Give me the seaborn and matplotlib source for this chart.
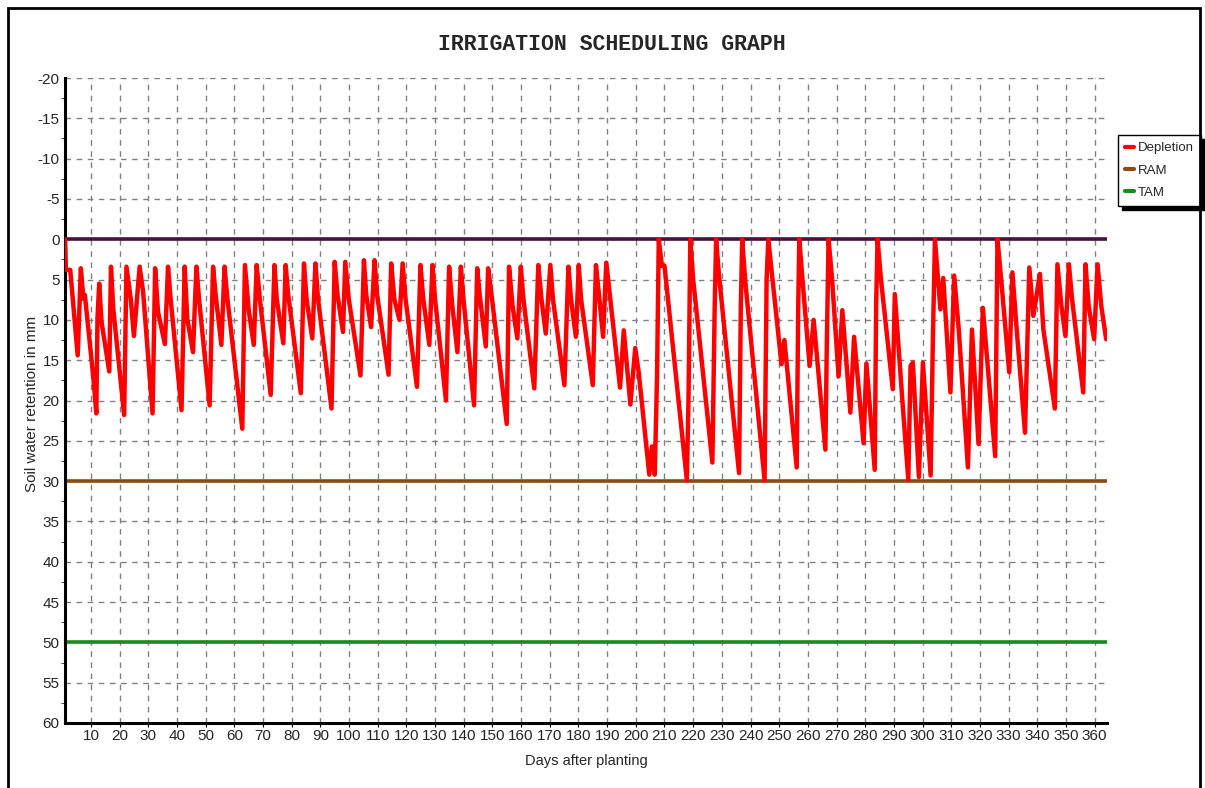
## Irrigation scheduling graph - depletion vs RAM / TAM

import numpy as np
import pandas as pd
import matplotlib.pyplot as plt
import seaborn as sns
from matplotlib.patches import Rectangle


# Depletion curve (day after planting, depletion in mm)
# rows kept at 10 values so the two lists stay in step
arrDays = [1.0, 1.3, 2.8, 5.4, 6.5, 7.4, 7.9, 10.9, 11.9, 12.3,
           12.9, 13.7, 16.4, 17.0, 17.8, 21.6, 22.4, 23.9, 25.0, 27.0,
           28.2, 31.5, 32.4, 33.4, 35.8, 36.9, 37.8, 41.6, 42.7, 43.6,
           45.6, 46.8, 47.7, 51.4, 52.6, 53.5, 55.5, 56.6, 57.6, 62.8,
           63.7, 65.1, 66.8, 67.8, 68.9, 72.7, 74.0, 74.8, 77.1, 77.9,
           78.8, 83.2, 84.3, 85.2, 87.2, 88.3, 89.2, 93.9, 95.0, 96.0,
           97.9, 98.7, 99.9, 104.0, 105.2, 106.0, 107.7, 108.9, 109.8, 113.8,
           114.7, 115.8, 117.6, 118.7, 119.7, 123.7, 124.9, 125.9, 128.0, 129.1,
           130.0, 133.8, 134.9, 136.0, 137.8, 139.0, 139.9, 143.6, 144.7, 145.6,
           147.7, 148.5, 149.7, 155.0, 155.8, 157.0, 158.7, 159.9, 160.8, 164.6,
           166.0, 167.1, 168.6, 170.2, 171.1, 175.1, 176.5, 177.4, 179.1, 180.1,
           180.9, 185.0, 186.1, 187.3, 188.6, 189.7, 190.6, 194.5, 195.8, 198.1,
           199.8, 201.0, 204.7, 205.6, 206.6, 207.4, 208.0, 209.1, 210.0, 217.8,
           218.4, 219.0, 220.0, 226.7, 227.5, 228.0, 229.0, 236.0, 236.6, 237.1,
           238.1, 244.9, 245.6, 246.2, 247.4, 250.8, 251.8, 256.1, 256.6, 257.0,
           258.0, 260.6, 262.0, 266.1, 266.6, 267.2, 268.4, 270.7, 272.0, 274.8,
           276.1, 279.4, 280.4, 283.3, 283.8, 284.3, 285.4, 289.6, 290.3, 292.9,
           295.0, 295.8, 296.6, 298.7, 300.1, 302.8, 303.6, 304.3, 305.4, 306.2,
           307.2, 309.7, 311.0, 312.6, 315.8, 317.2, 319.5, 321.0, 325.3, 326.1,
           327.4, 330.2, 331.3, 332.8, 335.7, 337.2, 338.6, 340.9, 342.1, 346.1,
           347.0, 348.4, 349.8, 351.0, 352.1, 356.0, 356.8, 357.9, 359.8, 361.0,
           362.3, 364.0]
arrDepletion = [0.0, 3.8, 3.8, 14.4, 3.6, 7.4, 6.9, 17.3, 21.6, 9.8,
                5.5, 10.2, 16.4, 3.4, 8.6, 21.8, 3.4, 7.4, 12.0, 3.4,
                6.5, 21.6, 3.6, 9.0, 13.0, 3.4, 7.4, 21.2, 3.4, 9.8,
                14.0, 3.4, 7.4, 20.6, 3.4, 6.9, 13.1, 3.4, 7.4, 23.5,
                3.2, 9.0, 13.1, 3.2, 7.4, 19.3, 3.2, 7.4, 12.9, 3.2,
                6.9, 19.1, 3.0, 7.4, 12.3, 3.0, 7.4, 21.0, 2.8, 6.9,
                11.5, 2.8, 7.4, 16.9, 2.6, 6.9, 10.9, 2.6, 6.9, 16.8,
                3.0, 7.4, 10.0, 3.0, 7.4, 18.3, 3.2, 7.4, 13.1, 3.2,
                7.4, 20.0, 3.4, 8.2, 14.0, 3.4, 7.4, 20.6, 3.6, 7.0,
                13.3, 3.6, 6.9, 22.9, 3.4, 8.2, 12.3, 3.4, 7.4, 18.5,
                3.2, 7.4, 11.7, 3.2, 7.4, 18.1, 3.4, 7.4, 12.1, 3.2,
                7.4, 18.1, 3.2, 7.4, 12.1, 2.9, 5.8, 18.4, 11.3, 20.5,
                13.5, 16.5, 29.2, 25.7, 29.2, 17.0, 0.0, 3.3, 3.3, 29.9,
                19.1, 0.0, 5.0, 27.7, 8.5, 0.0, 4.5, 29.0, 8.6, 0.0,
                5.0, 29.9, 5.0, 0.0, 4.1, 15.5, 12.5, 28.3, 9.0, 0.0,
                4.5, 15.7, 10.0, 26.1, 13.0, 0.0, 4.8, 17.0, 8.8, 21.5,
                12.1, 25.3, 15.4, 28.6, 8.0, 0.0, 4.7, 18.6, 6.8, 19.8,
                29.8, 15.7, 15.3, 29.5, 15.3, 29.3, 12.0, 0.0, 5.0, 8.7,
                4.8, 19.0, 4.5, 11.2, 28.3, 11.2, 25.4, 8.5, 26.9, 0.0,
                5.0, 16.5, 4.1, 11.2, 24.0, 3.5, 9.5, 4.3, 11.2, 21.0,
                3.1, 8.3, 12.0, 3.1, 7.4, 19.0, 3.1, 8.3, 12.4, 3.1,
                8.3, 12.4]

# Reference levels (mm)
nFieldCapacity = 0
nRAM = 30
nTAM = 50

arrXTicks = list(range(10, 361, 10))
arrYTicks = list(range(-20, 61, 5))


dfDepletion = pd.DataFrame({'Day': arrDays, 'Depletion': arrDepletion})

sns.set_style('white')
plt.rcParams['font.family'] = ['Liberation Sans', 'DejaVu Sans']
plt.rcParams['axes.unicode_minus'] = False

fig = plt.figure(figsize=(12.05, 7.88), dpi=100)
ax = fig.add_axes([0.054, 0.0825, 0.8647, 0.8185])

# Outer window frame
fig.patches.append(Rectangle((8 / 1205, -0.1), 1192 / 1205, 1.1 - 8 / 788,
                             transform=fig.transFigure, fill=False,
                             edgecolor='black', linewidth=2))

ax.axhline(nFieldCapacity, color='#4a1040', linewidth=2.6, zorder=2)
ax.axhline(nRAM, color='#8b4a10', linewidth=2.6, label='RAM', zorder=2)
ax.axhline(nTAM, color='#1a8a1a', linewidth=2.6, label='TAM', zorder=2)

sns.lineplot(data=dfDepletion, x='Day', y='Depletion', ax=ax, color='#ff0000',
             linewidth=3.2, estimator=None, sort=False, label='Depletion', zorder=3)

# Axes limits - y axis runs downwards
ax.set_xlim(1, 364.3)
ax.set_ylim(60, -20)
ax.set_xticks(arrXTicks)
ax.set_yticks(arrYTicks)
ax.set_yticks(np.arange(-17.5, 60, 5), minor=True)
ax.tick_params(axis='both', which='major', labelsize=11, length=3, pad=1,
               direction='out', color='black')
ax.tick_params(axis='y', which='minor', length=3, direction='out', left=True)
ax.tick_params(axis='x', which='major', bottom=True)

ax.grid(True, which='major', color='#808080', linestyle=(0, (4, 4)), linewidth=1)

for sSide in ['top', 'right']:
    ax.spines[sSide].set_visible(False)
for sSide in ['left', 'bottom']:
    ax.spines[sSide].set_color('black')
    ax.spines[sSide].set_linewidth(2.2)

ax.set_xlabel('Days after planting', fontsize=10.5)
ax.set_ylabel('Soil water retention in mm', fontsize=11)
ax.xaxis.set_label_coords(0.5, -0.048)
ax.yaxis.set_label_coords(-0.025, 0.495)

fig.text(0.508, 0.944, 'IRRIGATION SCHEDULING GRAPH', ha='center', va='center',
         fontsize=15.5, fontweight='bold', family='Liberation Mono')

# Legend in the right margin with a solid shadow
handles, labels = ax.get_legend_handles_labels()
order = [labels.index(s) for s in ['Depletion', 'RAM', 'TAM']]
leg = ax.legend([handles[i] for i in order], [labels[i] for i in order],
                loc='upper left', bbox_to_anchor=(1118 / 1205, 1 - 135 / 788),
                bbox_transform=fig.transFigure, fontsize=9.5, frameon=True,
                fancybox=False,
                shadow={'color': 'black', 'alpha': 1, 'ox': 3, 'oy': -3},
                handlelength=0.7, handletextpad=0.25, borderpad=0.55,
                labelspacing=0.75, borderaxespad=0)
leg.get_frame().set_edgecolor('black')
leg.get_frame().set_linewidth(1)
for line in leg.get_lines():
    line.set_linewidth(3)

fig.savefig('out.png', dpi=100)
